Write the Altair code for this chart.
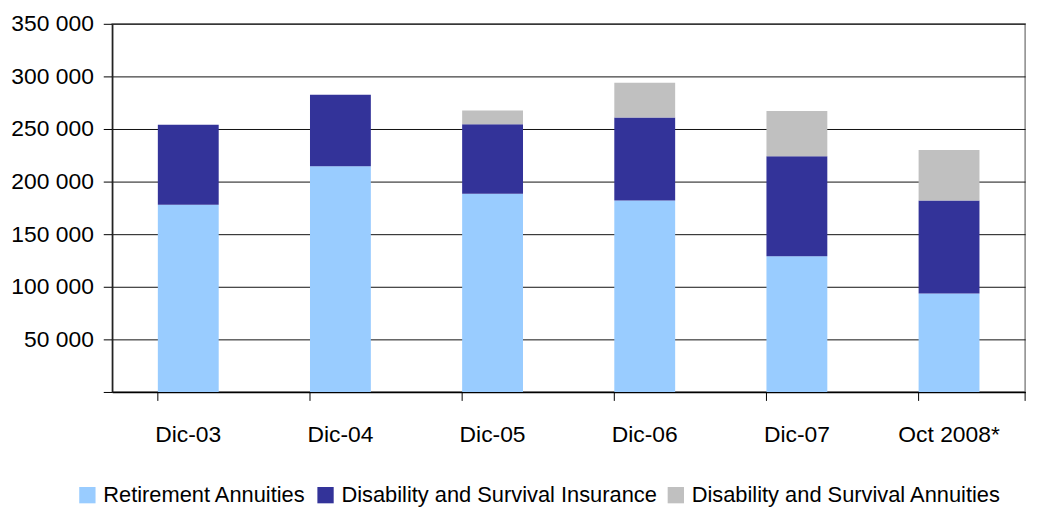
import altair as alt
import pandas as pd

categories = ["Dic-03", "Dic-04", "Dic-05", "Dic-06", "Dic-07", "Oct 2008*"]
series = ["Retirement Annuities", "Disability and Survival Insurance", "Disability and Survival Annuities"]
retirement = [178000, 214500, 188500, 182000, 129000, 93500]
insurance = [76000, 68000, 66000, 79000, 95000, 88500]
annuities = [0, 0, 13000, 33000, 43000, 48000]
colors = ["#99CCFF", "#333399", "#C0C0C0"]
y_ticks = [0, 50000, 100000, 150000, 200000, 250000, 300000, 350000]

rows = []
for i, c in enumerate(categories):
    for k, (s, vals) in enumerate(zip(series, [retirement, insurance, annuities])):
        rows.append({"cat": c, "series": s, "value": vals[i], "order": k})
df = pd.DataFrame(rows)
ticks_df = pd.DataFrame({"cat": categories})

FONT = "Liberation Sans, Arial"
FS = 23
LFS = 22

xscale = alt.Scale(domain=categories, paddingInner=0.6, paddingOuter=0.3)

bars = alt.Chart(df).mark_bar().encode(
    x=alt.X("cat:N", scale=xscale, sort=categories,
            axis=alt.Axis(title=None, labelAngle=0, ticks=False, labelPadding=32,
                          labelFont=FONT, labelFontSize=FS, labelColor="#000",
                          domainColor="#000", domainWidth=1.5)),
    y=alt.Y("value:Q", stack="zero",
            scale=alt.Scale(domain=[0, 350000], nice=False),
            axis=alt.Axis(title=None, values=y_ticks, tickSize=9, tickColor="#000",
                          labelPadding=10, labelFont=FONT, labelFontSize=FS, labelColor="#000",
                          labelExpr="datum.value == 0 ? '' : replace(format(datum.value, ',d'), ',', ' ')",
                          gridColor="#111", gridWidth=1, domainColor="#222", domainWidth=1.5)),
    color=alt.Color("series:N", sort=series,
                    scale=alt.Scale(domain=series, range=colors),
                    legend=alt.Legend(title=None, orient="none", direction="horizontal",
                                      legendX=-36, legendY=464, symbolType="square",
                                      symbolSize=270, symbolStrokeWidth=0, symbolOffset=0,
                                      labelFont=FONT, labelFontSize=LFS, labelColor="#000",
                                      labelLimit=0, labelOffset=5, columnPadding=8)),
    order=alt.Order("order:Q"),
)

xticks = alt.Chart(ticks_df).mark_rule(color="#000", strokeWidth=1).encode(
    x=alt.X("cat:N", bandPosition=0, sort=categories),
    y=alt.value(371), y2=alt.value(380),
)
last_tick = alt.Chart(ticks_df.head(1)).mark_rule(color="#000", strokeWidth=1).encode(
    x=alt.value(920), y=alt.value(371), y2=alt.value(380),
)

chart = alt.layer(bars, xticks, last_tick).properties(
    width=920, height=371,
    autosize=alt.AutoSizeParams(type="none"),
    padding={"left": 105, "top": 14, "right": 15, "bottom": 115},
).configure_view(stroke="#888", strokeWidth=1.5)

chart.save("out.html", embed_options={"renderer": "svg", "actions": False})
